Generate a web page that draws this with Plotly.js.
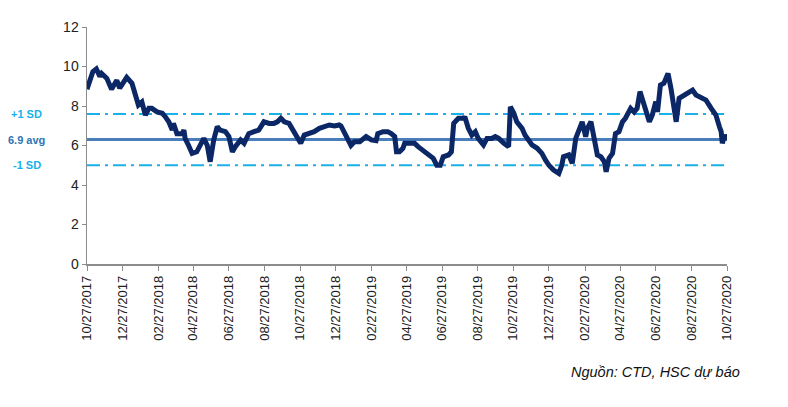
<!DOCTYPE html>
<html>
<head>
<meta charset="utf-8">
<script src="https://cdn.plot.ly/plotly-3.0.1.min.js"></script>
<style>html,body{margin:0;padding:0;background:#fff;}#chart{width:788px;height:407px;}</style>
</head>
<body>
<div id="chart"></div>
<script>
const dates = [
"2017-10-27","2017-11-01","2017-11-06","2017-11-12","2017-11-18","2017-11-21","2017-11-30","2017-12-08","2017-12-17","2017-12-22",
"2018-01-03","2018-01-12","2018-01-17","2018-01-23","2018-01-29","2018-02-04","2018-02-10","2018-02-15","2018-02-24","2018-03-05",
"2018-03-10","2018-03-16","2018-03-22","2018-03-24","2018-03-30","2018-04-08","2018-04-11","2018-04-13","2018-04-19","2018-04-25",
"2018-05-03","2018-05-09","2018-05-15","2018-05-21","2018-05-26","2018-06-01","2018-06-07","2018-06-12","2018-06-21","2018-06-27",
"2018-07-03","2018-07-08","2018-07-17","2018-07-23","2018-07-31","2018-08-09","2018-08-17","2018-08-26","2018-09-04","2018-09-12",
"2018-09-18","2018-09-24","2018-09-30","2018-10-08","2018-10-17","2018-10-23","2018-10-28","2018-11-03","2018-11-12","2018-11-20",
"2018-11-29","2018-12-08","2018-12-16","2018-12-25","2019-01-02","2019-01-05","2019-01-11","2019-01-17","2019-01-22","2019-01-28",
"2019-02-06","2019-02-17","2019-02-26","2019-03-06","2019-03-09","2019-03-18","2019-03-26","2019-04-01","2019-04-07","2019-04-10",
"2019-04-15","2019-04-21","2019-04-24","2019-05-02","2019-05-11","2019-05-17","2019-05-25","2019-06-03","2019-06-12","2019-06-18",
"2019-06-24","2019-06-29","2019-07-08","2019-07-13","2019-07-17","2019-07-25","2019-08-03","2019-08-05","2019-08-11","2019-08-17",
"2019-08-23","2019-08-28","2019-09-06","2019-09-12","2019-09-20","2019-09-26","2019-10-02","2019-10-11","2019-10-19","2019-10-22",
"2019-10-28","2019-11-02","2019-11-11","2019-11-16","2019-11-25","2019-11-28","2019-12-07","2019-12-15","2019-12-21","2019-12-27",
"2020-01-04","2020-01-13","2020-01-18","2020-01-21","2020-01-30","2020-02-05","2020-02-11","2020-02-16","2020-02-22","2020-02-28",
"2020-03-02","2020-03-08","2020-03-14","2020-03-19","2020-03-25","2020-03-31","2020-04-03","2020-04-08","2020-04-14","2020-04-19",
"2020-04-25","2020-05-01","2020-05-06","2020-05-15","2020-05-21","2020-05-26","2020-05-31","2020-06-04","2020-06-10","2020-06-16",
"2020-06-21","2020-06-27","2020-06-30","2020-07-05","2020-07-11","2020-07-18","2020-07-23","2020-07-28","2020-08-01","2020-08-06",
"2020-08-15","2020-08-23","2020-08-29","2020-09-04","2020-09-13","2020-09-21","2020-09-30","2020-10-08","2020-10-14","2020-10-17",
"2020-10-19","2020-10-23","2020-10-27"
];
const peValues = [
8.85,9.4,9.74,9.88,9.5,9.65,9.4,8.85,9.3,8.9,
9.45,9.15,8.72,8.05,8.2,7.54,7.88,7.88,7.7,7.63,
7.46,7.2,6.78,7.12,6.6,6.6,6.78,6.36,6.0,5.6,
5.68,6.0,6.36,6.0,5.18,6.28,6.95,6.78,6.7,6.45,
5.68,5.94,6.28,6.11,6.6,6.7,6.78,7.2,7.12,7.12,
7.2,7.38,7.2,7.12,6.7,6.45,6.11,6.53,6.6,6.7,
6.87,6.95,7.04,6.99,7.04,6.99,6.6,6.28,6.0,6.19,
6.19,6.45,6.28,6.24,6.6,6.7,6.7,6.6,6.45,5.68,
5.68,5.86,6.11,6.11,6.11,5.94,5.77,5.6,5.35,5.0,
5.0,5.43,5.52,5.68,7.12,7.38,7.38,7.46,6.87,6.53,
6.7,6.36,6.03,6.36,6.36,6.45,6.36,6.11,5.94,7.96,
7.63,7.2,6.87,6.53,6.19,6.03,5.86,5.6,5.27,5.0,
4.76,4.59,5.0,5.43,5.52,5.1,6.36,6.7,7.2,6.45,
6.87,7.2,6.19,5.52,5.43,5.18,4.67,5.35,5.6,6.6,
6.7,7.2,7.38,7.88,7.7,7.88,8.73,8.39,7.88,7.2,
7.54,8.22,7.7,9.06,9.15,9.65,8.9,7.7,7.2,8.39,
8.56,8.64,8.81,8.56,8.39,8.3,7.88,7.54,6.95,6.7,
6.11,6.53,6.28
];
const avgValue = 6.3;
const plusSD = 7.6;
const minusSD = 5.0;
const bandLabels = ["+1 SD", "6.9 avg", "-1 SD"];
const tickDates = ["2017-10-27","2017-12-27","2018-02-27","2018-04-27","2018-06-27","2018-08-27","2018-10-27","2018-12-27",
"2019-02-27","2019-04-27","2019-06-27","2019-08-27","2019-10-27","2019-12-27","2020-02-27","2020-04-27","2020-06-27",
"2020-08-27","2020-10-27"];
const tickLabels = tickDates.map(d => { const p = d.split("-"); return p[1] + "/" + p[2] + "/" + p[0]; });
const sourceText = "Nguồn: CTD, HSC dự báo";

const cyan = "#1ab0e8";
const avgBlue = "#4a7ebb";

const traces = [
  {x: [dates[0], dates[dates.length-1]], y: [plusSD, plusSD], mode: "lines", line: {color: cyan, width: 2, dash: "13px,5px,3px,5px"}, hoverinfo: "skip"},
  {x: [dates[0], dates[dates.length-1]], y: [minusSD, minusSD], mode: "lines", line: {color: cyan, width: 2, dash: "13px,5px,3px,5px"}, hoverinfo: "skip"},
  {x: [dates[0], dates[dates.length-1]], y: [avgValue, avgValue], mode: "lines", line: {color: avgBlue, width: 3}, hoverinfo: "skip"},
  {x: dates, y: peValues, mode: "lines", line: {color: "#0c2766", width: 5, shape: "linear"}}
];

const layout = {
  width: 788, height: 407,
  margin: {l: 87, r: 61, t: 27, b: 143},
  paper_bgcolor: "#fff", plot_bgcolor: "#fff",
  showlegend: false,
  font: {family: "Liberation Sans, Arial, sans-serif", color: "#222"},
  xaxis: {
    type: "date", range: [dates[0], dates[dates.length-1]],
    tickvals: tickDates, ticktext: tickLabels, tickangle: -90,
    tickfont: {size: 13, color: "#222"},
    showgrid: false, zeroline: false,
    showline: true, linecolor: "#8c8c8c", linewidth: 1.5,
    ticks: "outside", ticklen: 5, tickcolor: "#8c8c8c", tickwidth: 1
  },
  yaxis: {
    range: [0, 12], tickvals: [0,2,4,6,8,10,12],
    tickfont: {size: 14, color: "#222"},
    showgrid: false, zeroline: false,
    showline: true, linecolor: "#8c8c8c", linewidth: 1.5,
    ticks: "outside", ticklen: 4, tickcolor: "#8c8c8c", tickwidth: 1
  },
  annotations: [
    {xref: "paper", yref: "y", x: -0.094, y: plusSD, text: "<b>" + bandLabels[0] + "</b>", showarrow: false, xanchor: "center", font: {size: 11, color: cyan}},
    {xref: "paper", yref: "y", x: -0.094, y: avgValue, text: "<b>" + bandLabels[1] + "</b>", showarrow: false, xanchor: "center", font: {size: 11, color: "#2e75b6"}},
    {xref: "paper", yref: "y", x: -0.094, y: minusSD, text: "<b>" + bandLabels[2] + "</b>", showarrow: false, xanchor: "center", font: {size: 11, color: cyan}},
    {xref: "paper", yref: "paper", x: 1.023, y: -0.455, text: "<i>" + sourceText + "</i>", showarrow: false, xanchor: "right", yanchor: "middle", font: {size: 14.5, color: "#111"}}
  ]
};

Plotly.newPlot("chart", traces, layout, {staticPlot: true, displayModeBar: false});
</script>
</body>
</html>
